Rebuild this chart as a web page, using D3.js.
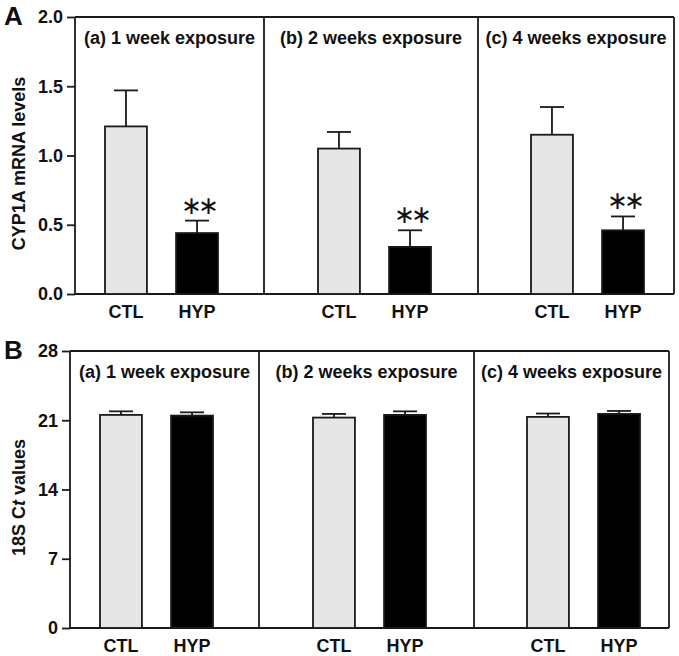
<!DOCTYPE html>
<html>
<head>
<meta charset="utf-8">
<script src="https://cdn.jsdelivr.net/npm/d3@7"></script>
<style>
  html, body { margin: 0; padding: 0; background: #fff; }
  svg { display: block; }
  text { font-family: "Liberation Sans", Arial, sans-serif; fill: #111; }
</style>
</head>
<body>
<svg id="chart" width="679" height="656"></svg>
<script>
// ---- data ----
const periods = ["(a) 1 week exposure", "(b) 2 weeks exposure", "(c) 4 weeks exposure"];
const groups = ["CTL", "HYP"];

const cypCTL = [1.21, 1.05, 1.15];
const cypCTLErr = [0.26, 0.12, 0.20];
const cypHYP = [0.44, 0.34, 0.46];
const cypHYPErr = [0.09, 0.12, 0.10];
const cypSig = ["**", "**", "**"];
const cypTicks = [0, 0.5, 1.0, 1.5, 2.0];

const ctCTL = [21.54, 21.27, 21.34];
const ctCTLErr = [0.36, 0.37, 0.34];
const ctHYP = [21.47, 21.54, 21.64];
const ctHYPErr = [0.33, 0.36, 0.30];
const ctSig = ["", "", ""];
const ctTicks = [0, 7, 14, 21, 28];

// ---- layout ----
const svg = d3.select("#chart");
const fills = { CTL: "#e6e6e6", HYP: "#000000" };
const stroke = "#1a1a1a";
const FS = 18;

const rows = [
  { letter: "A", top: 17, bottom: 294, axisX: 75, right: 674, dividers: [264, 478],
    barStarts: [105, 318, 531], domain: [0, 2], ticks: cypTicks, fmt: d3.format(".1f"),
    ctl: cypCTL, ctlErr: cypCTLErr, hyp: cypHYP, hypErr: cypHYPErr, sig: cypSig,
    ylabel: [{t: "CYP1A mRNA levels"}] },
  { letter: "B", top: 351, bottom: 628, axisX: 70, right: 669, dividers: [259, 474],
    barStarts: [100, 313, 527], domain: [0, 28], ticks: ctTicks, fmt: d3.format("d"),
    ctl: ctCTL, ctlErr: ctCTLErr, hyp: ctHYP, hypErr: ctHYPErr, sig: ctSig,
    ylabel: [{t: "18S C"}, {t: "t", italic: true}, {t: " values"}] }
];

rows.forEach(r => {
  const g = svg.append("g");
  const y = d3.scaleLinear().domain(r.domain).range([r.bottom, r.top]);

  // y axis
  const ax = g.append("g").attr("transform", `translate(${r.axisX},0)`)
    .call(d3.axisLeft(y).tickValues(r.ticks).tickFormat(r.fmt).tickSize(8).tickPadding(4));
  ax.select(".domain").remove();
  ax.selectAll(".tick line").attr("stroke", stroke).attr("stroke-width", 1.8);
  ax.selectAll(".tick text").attr("font-size", FS).attr("font-weight", "bold")
    .attr("font-family", '"Liberation Sans", Arial, sans-serif').attr("fill", "#111");

  // frame
  const frame = g.append("g").attr("stroke", stroke).attr("stroke-width", 1.8).attr("fill", "none");
  frame.append("line").attr("x1", r.axisX).attr("x2", r.axisX).attr("y1", r.top).attr("y2", r.bottom);
  frame.append("line").attr("x1", r.axisX).attr("x2", r.right).attr("y1", r.top).attr("y2", r.top);
  frame.append("line").attr("x1", r.axisX).attr("x2", r.right).attr("y1", r.bottom).attr("y2", r.bottom);
  frame.append("line").attr("x1", r.right).attr("x2", r.right).attr("y1", r.top).attr("y2", r.bottom);
  r.dividers.forEach(d => frame.append("line").attr("x1", d).attr("x2", d).attr("y1", r.top).attr("y2", r.bottom));

  // panel letter
  g.append("text").attr("x", 4).attr("y", r.top + 8).attr("font-size", 26).attr("font-weight", "bold").text(r.letter);

  // y label
  const yl = g.append("text").attr("transform", `translate(25,${(r.top + r.bottom) / 2 + 8}) rotate(-90)`)
    .attr("text-anchor", "middle").attr("font-size", FS).attr("font-weight", "bold");
  r.ylabel.forEach(p => yl.append("tspan").attr("font-style", p.italic ? "italic" : "normal").text(p.t));

  const edges = [r.axisX, ...r.dividers, r.right];
  periods.forEach((p, i) => {
    const x = d3.scaleBand().domain(groups).range([r.barStarts[i], r.barStarts[i] + 113])
      .paddingInner(0.41).paddingOuter(0);
    const bw = x.bandwidth();
    // title
    g.append("text").attr("x", (edges[i] + edges[i + 1]) / 2).attr("y", r.top + 27)
      .attr("text-anchor", "middle").attr("font-size", FS).attr("font-weight", "bold").text(p);

    const data = [
      { k: "CTL", v: r.ctl[i], e: r.ctlErr[i], s: "" },
      { k: "HYP", v: r.hyp[i], e: r.hypErr[i], s: r.sig[i] }
    ];
    data.forEach(d => {
      const cx = x(d.k) + bw / 2;
      // error bar
      g.append("line").attr("x1", cx).attr("x2", cx).attr("y1", y(d.v)).attr("y2", y(d.v + d.e))
        .attr("stroke", stroke).attr("stroke-width", 1.8);
      g.append("line").attr("x1", cx - 12).attr("x2", cx + 12).attr("y1", y(d.v + d.e)).attr("y2", y(d.v + d.e))
        .attr("stroke", stroke).attr("stroke-width", 1.8);
      // bar
      g.append("rect").attr("x", x(d.k)).attr("y", y(d.v)).attr("width", bw).attr("height", y(0) - y(d.v))
        .attr("fill", fills[d.k]).attr("stroke", stroke).attr("stroke-width", 1.8);
      // category label
      g.append("text").attr("x", cx).attr("y", r.bottom + 24).attr("text-anchor", "middle")
        .attr("font-size", FS).attr("font-weight", "bold").text(d.k);
      // significance
      if (d.s) {
        g.append("text").attr("x", cx + 1).attr("y", y(d.v + d.e) - 7).attr("text-anchor", "middle")
          .attr("font-size", 25).attr("letter-spacing", -4)
          .attr("font-family", '"DejaVu Sans", sans-serif').attr("font-weight", "normal")
          .text(d.s.replace(/\*/g, "\u2217"));
      }
    });
  });
});
</script>
</body>
</html>
